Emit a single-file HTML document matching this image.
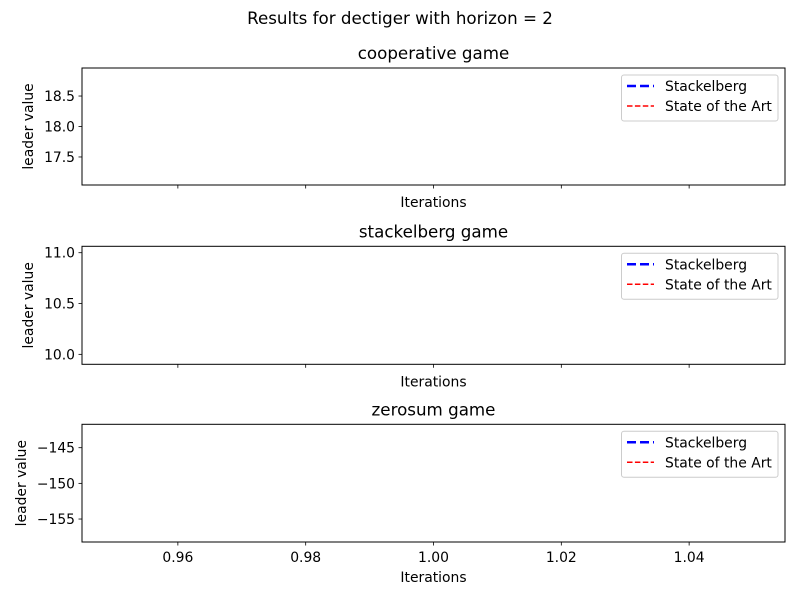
<!DOCTYPE html>
<html><head><meta charset="utf-8"><style>
body{margin:0;background:#fff;}
svg text{font-family:"DejaVu Sans","Liberation Sans",sans-serif;fill:#000;}
</style></head><body>
<svg id="chart" width="800" height="600" viewBox="0 0 800 600">
<rect width="800" height="600" fill="#fff"/>
<text x="400" y="24" font-size="16.7" text-anchor="middle">Results for dectiger with horizon = 2</text>
</svg>
<script>
const titles = ["cooperative game", "stackelberg game", "zerosum game"];
const iterations = [1];
const stackelbergValues = [[18], [10.5], [-150]];
const sotaValues = [[18], [10.5], [-150]];
const yTicks = [[17.5, 18.0, 18.5], [10.0, 10.5, 11.0], [-155, -150, -145]];
const yTickLabels = [["17.5","18.0","18.5"], ["10.0","10.5","11.0"], ["\u2212155","\u2212150","\u2212145"]];
const yDomains = [[17.04, 18.96], [9.902, 11.063], [-158.22, -141.72]];
const xTicks = [0.96, 0.98, 1.00, 1.02, 1.04];
const xTickLabels = ["0.96", "0.98", "1.00", "1.02", "1.04"];
const xDomain = [0.945, 1.055];

const svg = document.getElementById('chart');
const NS = 'http://www.w3.org/2000/svg';
function mk(tag, attrs, parent) {
  const e = document.createElementNS(NS, tag);
  for (const k in attrs) e.setAttribute(k, attrs[k]);
  (parent || svg).appendChild(e);
  return e;
}
const L = 82, R = 785;
const tops = [68, 246.3, 424.3], bottoms = [185, 364.3, 542];
const ylabelX = [33, 33, 26];
function xs(v) { return L + (v - xDomain[0]) / (xDomain[1] - xDomain[0]) * (R - L); }

for (let i = 0; i < 3; i++) {
  const T = tops[i], B = bottoms[i];
  const ys = v => B - (v - yDomains[i][0]) / (yDomains[i][1] - yDomains[i][0]) * (B - T);
  const g = mk('g', {});
  
  
  const t = mk('text', {x: (L + R) / 2, y: T - 9, 'font-size': 16.7, 'text-anchor': 'middle'}, g);
  t.textContent = titles[i];
  
  
  const s1 = mk('polyline', {points: iterations.map((x, j) => xs(x) + ',' + ys(stackelbergValues[i][j])).join(' '), fill: 'none', stroke: '#0000ff', 'stroke-width': 2.5, 'stroke-dasharray': '9,4'}, g);
  
  
  const s2 = mk('polyline', {points: iterations.map((x, j) => xs(x) + ',' + ys(sotaValues[i][j])).join(' '), fill: 'none', stroke: '#ff0000', 'stroke-width': 1.5, 'stroke-dasharray': '5.5,2.4'}, g);
  
  
  const fr = mk('rect', {x: L, y: T, width: R - L, height: B - T, fill: 'none', stroke: '#000', 'stroke-width': 1}, g);
  
  
  yTicks[i].forEach((v, k) => {
    const y = ys(v);
    mk('line', {x1: L - 3.5, x2: L, y1: y, y2: y, stroke: '#000', 'stroke-width': 0.8}, g);
    const tl = mk('text', {x: L - 7, y: y + 5, 'font-size': 13.9, 'text-anchor': 'end'}, g);
    tl.textContent = yTickLabels[i][k];
    
    
  });
  xTicks.forEach((v, k) => {
    const x = xs(v);
    mk('line', {x1: x, x2: x, y1: B, y2: B + 3.5, stroke: '#000', 'stroke-width': 0.8}, g);
    if (i === 2) {
      const tl = mk('text', {x: x, y: B + 20, 'font-size': 13.9, 'text-anchor': 'middle'}, g);
      tl.textContent = xTickLabels[k];
      
      
    }
  });
  const xl = mk('text', {x: (L + R) / 2, y: B + (i === 2 ? 40 : 22), 'font-size': 13.9, 'text-anchor': 'middle'}, g);
  xl.textContent = 'Iterations';
  
  
  const cy = (T + B) / 2;
  const yl = mk('text', {x: ylabelX[i], y: cy, 'font-size': 13.9, 'text-anchor': 'middle', transform: 'rotate(-90 ' + ylabelX[i] + ' ' + cy + ')'}, g);
  yl.textContent = 'leader value';
  
  
  const lg = mk('g', {}, g);
  
  
  mk('rect', {x: 621.5, y: T + 7, width: 156.5, height: 46, rx: 2.5, fill: '#fff', stroke: '#cccccc', 'stroke-width': 1}, lg);
  mk('line', {x1: 627, x2: 654, y1: T + 18, y2: T + 18, stroke: '#0000ff', 'stroke-width': 2.5, 'stroke-dasharray': '9,4'}, lg);
  mk('line', {x1: 627, x2: 654, y1: T + 38, y2: T + 38, stroke: '#ff0000', 'stroke-width': 1.5, 'stroke-dasharray': '5.5,2.4'}, lg);
  const e1 = mk('text', {x: 665, y: T + 23, 'font-size': 13.9}, lg);
  e1.textContent = 'Stackelberg';
  
  
  const e2 = mk('text', {x: 665, y: T + 43, 'font-size': 13.9}, lg);
  e2.textContent = 'State of the Art';
  
  
}
</script>
</body></html>
